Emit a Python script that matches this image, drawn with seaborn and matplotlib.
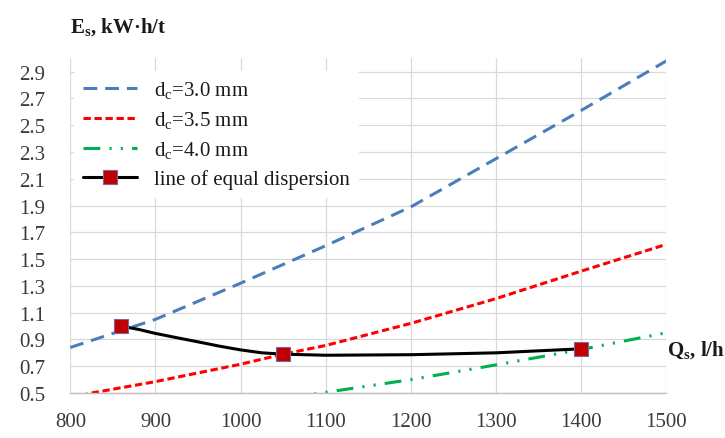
import matplotlib
matplotlib.use("Agg")
import matplotlib.pyplot as plt
import seaborn as sns

# values
q_blue = [800, 900, 1000, 1100, 1200, 1300, 1400, 1500]
e_blue = [0.84, 1.05, 1.32, 1.60, 1.89, 2.25, 2.61, 2.98]

q_red = [800, 825, 900, 1000, 1050, 1100, 1200, 1300, 1400, 1500]
e_red = [0.46, 0.50, 0.585, 0.715, 0.79, 0.855, 1.02, 1.205, 1.41, 1.61]

q_green = [1000, 1100, 1200, 1300, 1400, 1500]
e_green = [0.41, 0.505, 0.60, 0.71, 0.825, 0.95]

q_equal = [860, 880, 900, 925, 950, 975, 1000, 1025, 1050, 1100, 1200, 1300, 1400]
e_equal = [1.0, 0.975, 0.945, 0.913, 0.882, 0.85, 0.822, 0.80, 0.79, 0.782, 0.786, 0.80, 0.83]
marker_idx = [0, 8, 12]

labels = [r"d$_\mathregular{c}$=3.0 mm", r"d$_\mathregular{c}$=3.5 mm",
          r"d$_\mathregular{c}$=4.0 mm", "line of equal dispersion"]

sns.set_theme(style="whitegrid")
plt.rcParams["font.family"] = ["Liberation Serif", "DejaVu Serif"]
plt.rcParams["mathtext.fontset"] = "custom"
plt.rcParams["mathtext.rm"] = "Liberation Serif"
plt.rcParams["mathtext.bf"] = "Liberation Serif:bold"

fig = plt.figure(figsize=(7.25, 4.39), dpi=100)
ax = fig.add_axes([0.097, 0.1025, 0.822, 0.7625])

sns.lineplot(x=q_blue, y=e_blue, ax=ax, color="#4A7EBB", lw=2.2,
             linestyle=(0, (4.5, 2.6)), label=labels[0], sort=False)
sns.lineplot(x=q_red, y=e_red, ax=ax, color="#FF0000", lw=2.2,
             linestyle=(0, (2.4, 1.2)), label=labels[1], sort=False)
sns.lineplot(x=q_green, y=e_green, ax=ax, color="#00B050", lw=2.2,
             linestyle=(0, (5.5, 3, 0.7, 3, 0.7, 3)), label=labels[2], sort=False)
sns.lineplot(x=q_equal, y=e_equal, ax=ax, color="black", lw=2.2,
             marker="s", markevery=marker_idx, markersize=9.5,
             markerfacecolor="#C00000", markeredgecolor="#8064A2",
             markeredgewidth=0.8, label=labels[3], sort=False)

ax.set_xlim(800, 1500)
ax.set_ylim(0.5, 3.0)
ax.set_xticks(range(800, 1501, 100))
ax.set_yticks([0.5 + 0.2 * i for i in range(13)])
ax.set_yticklabels([f"{0.5 + 0.2 * i:.1f}" for i in range(13)])
ax.grid(True, color="#D9D9D9", lw=0.9)
for s in ["top", "right", "left"]:
    ax.spines[s].set_visible(False)
ax.spines["bottom"].set_color("#BFBFBF")
ax.spines["bottom"].set_linewidth(1.0)
ax.tick_params(axis="both", labelsize=15, colors="#3A3A3A", length=0)
ax.tick_params(axis="x", pad=14)
ax.tick_params(axis="y", pad=18)
ax.set_xlabel("")
ax.set_ylabel("")

leg = ax.legend(loc="upper left", bbox_to_anchor=(0.0, 0.975), fontsize=15,
                frameon=True, handlelength=2.6, labelspacing=0.4,
                borderaxespad=0.2, labelcolor="#1A1A1A")
leg.get_frame().set_facecolor("white")
leg.get_frame().set_edgecolor("white")
leg.get_frame().set_alpha(1)

fig.text(0.097, 0.938, r"$\mathbf{E_s}$, kW·h/t", fontsize=15,
         fontweight="bold", va="center", ha="left", color="#1A1A1A")
fig.text(0.92, 0.203, r"$\mathbf{Q_s}$, l/h", fontsize=15,
         fontweight="bold", va="center", ha="left", color="#1A1A1A")

fig.savefig("out.png", dpi=100)
